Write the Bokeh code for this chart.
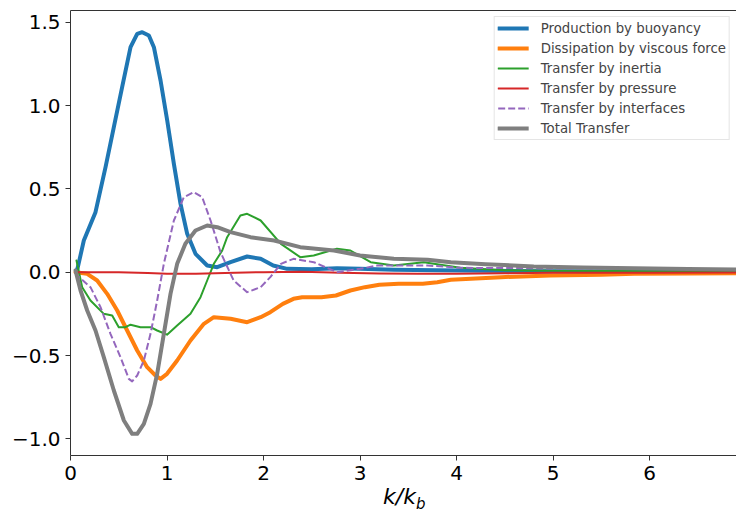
from bokeh.plotting import figure
from bokeh.models import Range1d, FixedTicker, CustomJSTickFormatter, Legend, Div, LinearAxis
from bokeh.layouts import column
from bokeh.embed import file_html
from bokeh.resources import INLINE

# ---- data ----
buoy_x = [0.06, 0.076, 0.138, 0.259, 0.363, 0.449, 0.535, 0.622, 0.691, 0.743, 0.812, 0.864, 0.933,
          1.002, 1.071, 1.14, 1.209, 1.295, 1.416, 1.52, 1.658, 1.83, 1.97, 2.1, 2.245, 2.5,
          2.76, 3.0, 3.35, 3.8, 4.3, 5.0, 6.0, 7.0]
buoy_y = [0.0, 0.03, 0.19, 0.36, 0.63, 0.87, 1.11, 1.35, 1.43, 1.44, 1.42, 1.35, 1.15,
          0.91, 0.65, 0.41, 0.23, 0.11, 0.04, 0.03, 0.06, 0.094, 0.08, 0.04, 0.02, 0.018,
          0.024, 0.02, 0.014, 0.012, 0.008, 0.005, 0.004, 0.003]

visc_x = [0.052, 0.173, 0.276, 0.38, 0.484, 0.587, 0.691, 0.794, 0.881, 0.933, 1.0, 1.105, 1.243,
          1.382, 1.485, 1.658, 1.83, 1.97, 2.07, 2.2, 2.31, 2.4, 2.6, 2.75, 2.9, 3.05, 3.2, 3.4,
          3.65, 3.8, 3.94, 4.46, 4.97, 5.5, 5.84, 6.4, 7.0]
visc_y = [0.0, -0.01, -0.05, -0.13, -0.23, -0.35, -0.47, -0.57, -0.62, -0.64, -0.61, -0.53, -0.41,
          -0.31, -0.27, -0.28, -0.30, -0.27, -0.24, -0.19, -0.16, -0.15, -0.15, -0.14, -0.11, -0.09, -0.075, -0.07,
          -0.07, -0.06, -0.046, -0.03, -0.02, -0.015, -0.01, -0.008, -0.007]

inert_x = [0.062, 0.121, 0.207, 0.345, 0.432, 0.5, 0.57, 0.622, 0.725, 0.829, 0.898, 1.0, 1.105,
           1.243, 1.347, 1.416, 1.485, 1.572, 1.623, 1.76, 1.83, 1.97, 2.18, 2.38, 2.52, 2.76,
           2.9, 3.11, 3.35, 3.66, 4.04, 4.5, 5.0, 6.0, 7.0]
inert_y = [0.07, -0.09, -0.17, -0.25, -0.26, -0.33, -0.33, -0.315, -0.33, -0.33, -0.35, -0.375, -0.32,
           -0.25, -0.15, -0.05, 0.05, 0.13, 0.21, 0.34, 0.35, 0.31, 0.17, 0.09, 0.10, 0.14,
           0.13, 0.06, 0.04, 0.06, 0.026, 0.012, 0.008, 0.005, 0.003]

press_x = [0.06, 0.5, 0.8, 1.0, 1.3, 1.6, 2.0, 2.4, 2.8, 3.2, 3.6, 4.0, 4.5, 5.0, 6.0, 7.0]
press_y = [0.0, 0.0, -0.005, -0.01, -0.01, -0.005, 0.0, 0.003, -0.003, -0.008, -0.01, -0.01, -0.006, -0.004, -0.003, -0.002]

intf_x = [0.06, 0.069, 0.207, 0.311, 0.414, 0.518, 0.604, 0.639, 0.691, 0.76, 0.829, 0.898, 0.967,
          1.071, 1.174, 1.278, 1.364, 1.451, 1.554, 1.69, 1.83, 1.97, 2.07, 2.18, 2.31, 2.52,
          2.76, 3.0, 3.18, 3.7, 4.04, 4.5, 5.0, 5.5, 6.0, 6.5, 7.0]
intf_y = [0.0, -0.02, -0.09, -0.21, -0.37, -0.51, -0.64, -0.655, -0.62, -0.53, -0.37, -0.17, 0.05,
          0.31, 0.45, 0.48, 0.45, 0.31, 0.12, -0.05, -0.12, -0.09, -0.03, 0.05, 0.08, 0.06,
          0.0, 0.02, 0.04, 0.04, 0.026, 0.025, 0.022, 0.022, 0.02, 0.017, 0.015]

total_x = [0.052, 0.104, 0.173, 0.259, 0.345, 0.449, 0.553, 0.639, 0.691, 0.76, 0.829, 0.898, 0.967,
           1.036, 1.105, 1.19, 1.295, 1.416, 1.52, 1.658, 1.865, 2.11, 2.38, 2.73, 3.0, 3.35, 3.7,
           3.94, 4.3, 4.8, 5.3, 5.84, 6.4, 7.0]
total_y = [0.01, -0.11, -0.23, -0.35, -0.51, -0.71, -0.89, -0.97, -0.97, -0.91, -0.79, -0.61, -0.37,
           -0.13, 0.05, 0.17, 0.25, 0.28, 0.27, 0.24, 0.21, 0.19, 0.15, 0.13, 0.10, 0.08, 0.074,
           0.06, 0.048, 0.034, 0.028, 0.023, 0.019, 0.016]

x_ticks = [0, 1, 2, 3, 4, 5, 6, 7]
y_ticks = [-1.0, -0.5, 0.0, 0.5, 1.0, 1.5]

FONT = "DejaVu Sans"
SPINE = "#333333"

p = figure(width=736, height=485, output_backend="svg", toolbar_location=None,
           x_range=Range1d(0, 6.90), y_range=Range1d(-1.10, 1.57),
           min_border_left=70, min_border_right=0, min_border_top=10, min_border_bottom=30)
p.grid.visible = False
p.outline_line_color = None
p.background_fill_color = "white"
p.border_fill_color = "white"

for ax in (p.xaxis[0], p.yaxis[0]):
    ax.axis_label = None
    ax.major_label_text_font = FONT
    ax.major_label_text_font_size = "20px"
    ax.major_label_text_color = "black"
    ax.major_tick_out = 5
    ax.major_tick_in = 0
    ax.minor_tick_out = 0
    ax.minor_tick_in = 0
    ax.major_label_standoff = 5
    ax.axis_line_color = SPINE
    ax.major_tick_line_color = SPINE

p.xaxis.ticker = FixedTicker(ticks=x_ticks)
p.yaxis.ticker = FixedTicker(ticks=y_ticks)
p.yaxis.formatter = CustomJSTickFormatter(code="""
    const s = Math.abs(tick).toFixed(1);
    return tick < 0 ? '\u2212' + s : s;
""")

# top spine (the right spine is outside the reference picture)
top = LinearAxis(ticker=FixedTicker(ticks=[]), axis_line_color=SPINE,
                 major_tick_line_color=None, minor_tick_line_color=None,
                 major_label_text_font_size="0px", axis_label=None)
p.add_layout(top, "above")

kw = dict(line_join="round", line_cap="round")
r1 = p.line(buoy_x, buoy_y, line_color="#1f77b4", line_width=4, **kw)
r2 = p.line(visc_x, visc_y, line_color="#ff7f0e", line_width=4, **kw)
r3 = p.line(inert_x, inert_y, line_color="#2ca02c", line_width=2, **kw)
r4 = p.line(press_x, press_y, line_color="#d62728", line_width=2, **kw)
r5 = p.line(intf_x, intf_y, line_color="#9467bd", line_width=2, line_dash="7 3", line_join="round")
r6 = p.line(total_x, total_y, line_color="#7f7f7f", line_width=4, **kw)

legend = Legend(items=[
    ("Production by buoyancy", [r1]),
    ("Dissipation by viscous force", [r2]),
    ("Transfer by inertia", [r3]),
    ("Transfer by pressure", [r4]),
    ("Transfer by interfaces", [r5]),
    ("Total Transfer", [r6]),
], location="top_right")
legend.label_text_font = FONT
legend.label_text_font_size = "13.3px"
legend.label_height = 16
legend.glyph_height = 16
legend.glyph_width = 31
legend.label_standoff = 12
legend.spacing = 4
legend.padding = 3
legend.margin = 6
legend.border_line_color = "#cccccc"
legend.border_line_width = 1
legend.background_fill_alpha = 0.8
p.add_layout(legend)

xlabel = Div(
    text='<span style="font-family:\'DejaVu Sans\'; font-size:22px; font-style:italic; '
         'line-height:24px; white-space:nowrap;">k/k<sub style="font-size:15px; '
         'vertical-align:-5px;">b</sub></span>',
    width=736, height=29,
    styles={"padding-left": "383px", "margin": "0", "padding-top": "0px"},
)

layout = column(p, xlabel, spacing=0)
open("out.html", "w").write(file_html(layout, INLINE))
